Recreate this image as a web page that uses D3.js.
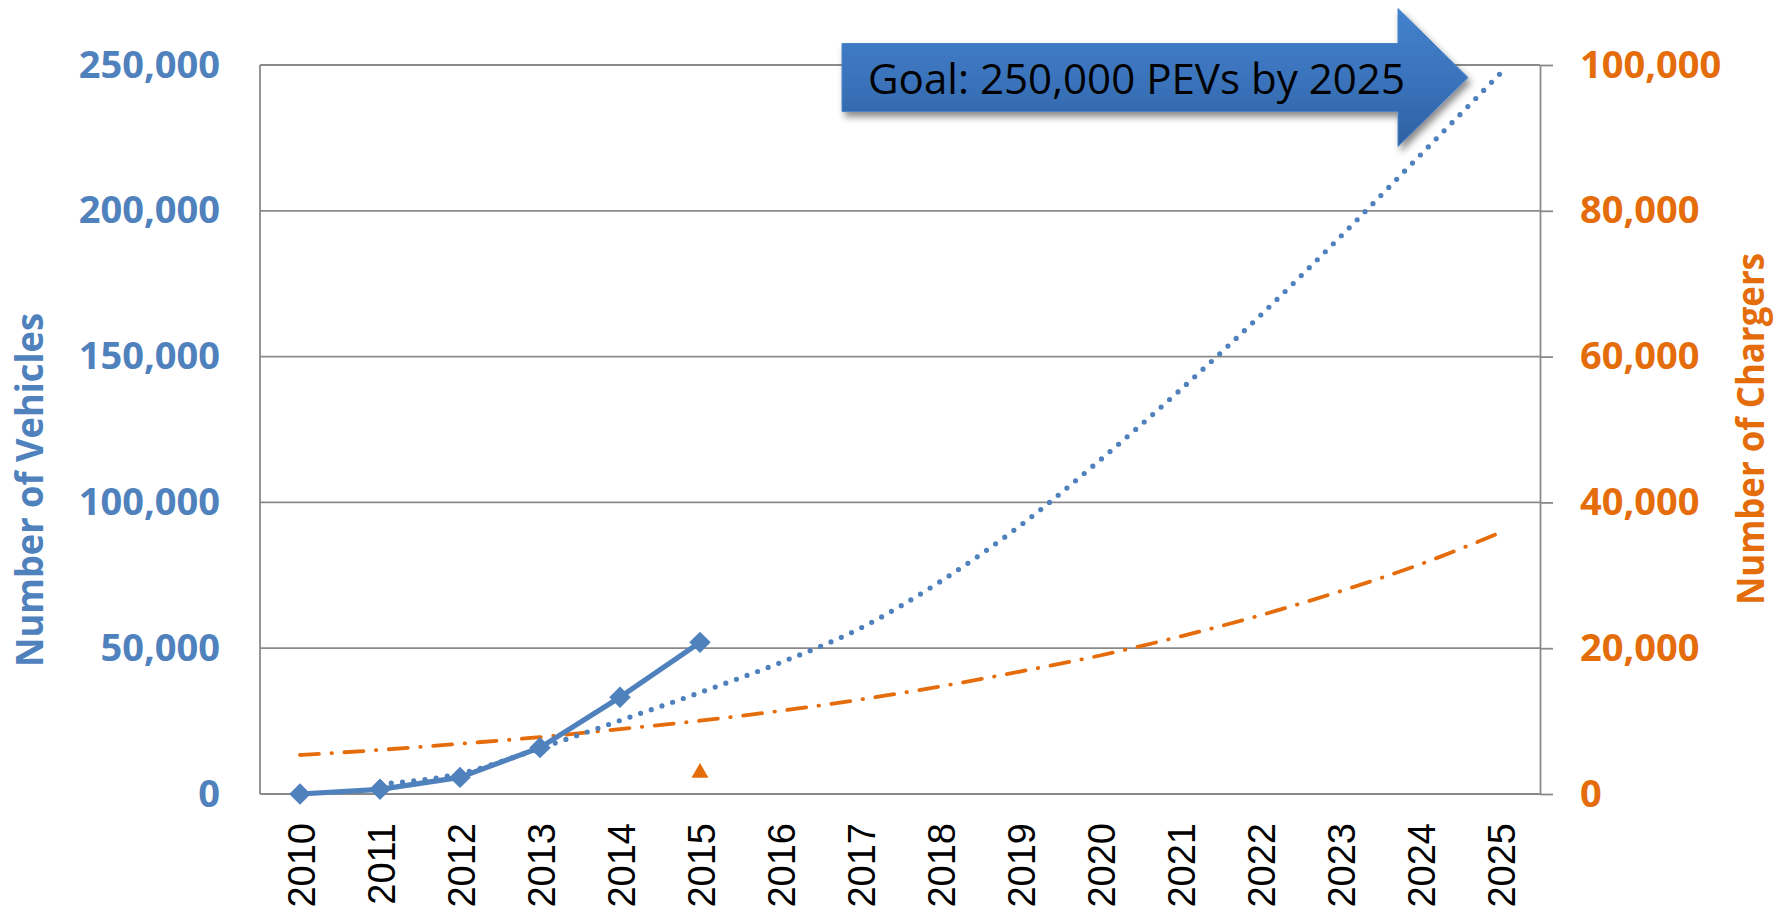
<!DOCTYPE html>
<html>
<head>
<meta charset="utf-8">
<script src="https://cdn.jsdelivr.net/npm/d3@7"></script>
<style>
  body { margin: 0; background: #fff; }
  svg { display: block; }
</style>
</head>
<body>
<div id="chart"></div>
<script>
// datos
var years = ["2010", "2011", "2012", "2013", "2014", "2015", "2016", "2017",
             "2018", "2019", "2020", "2021", "2022", "2023", "2024", "2025"];
var vehicleYears = ["2010", "2011", "2012", "2013", "2014", "2015"];
var vehicles = [0, 1600, 5700, 15900, 33200, 52000];
var vehicleTrendYears = ["2011", "2012", "2013", "2014", "2015", "2016", "2017", "2018",
                         "2019", "2020", "2021", "2022", "2023", "2024", "2025"];
var vehicleTrend = [3400, 7000, 15700, 25200, 34800, 45000, 56800, 72800,
                    92000, 114500, 138500, 164000, 191000, 219000, 247000];
var chargerYears = ["2015"];
var chargers = [2900];
var chargerTrend = [5350, 6050, 6900, 7800, 8900, 10050, 11400, 12950,
                    14750, 16800, 19000, 21600, 24500, 27800, 31500, 35850];
var leftTicks = [0, 50000, 100000, 150000, 200000, 250000];
var rightTicks = [0, 20000, 40000, 60000, 80000, 100000];
var goalText = "Goal: 250,000 PEVs by 2025";

var blue = "#4f81bd", orange = "#e46c0a", grid = "#8a8a8a";

var W = 1775, H = 910;
var plotLeft = 260, plotRight = 1540, plotTop = 65, plotBottom = 794;

var svg = d3.select("#chart").append("svg")
    .attr("width", W)
    .attr("height", H);

var defs = svg.append("defs");
var grad = defs.append("linearGradient")
    .attr("id", "arrowFill")
    .attr("x1", 0).attr("y1", 0).attr("x2", 0).attr("y2", 1);
grad.append("stop").attr("offset", "0%").attr("stop-color", "#4382cd");
grad.append("stop").attr("offset", "55%").attr("stop-color", "#3a72ba");
grad.append("stop").attr("offset", "100%").attr("stop-color", "#2e60a2");
var shadow = defs.append("filter").attr("id", "shadow")
    .attr("x", "-10%").attr("y", "-20%").attr("width", "130%").attr("height", "160%");
shadow.append("feDropShadow")
    .attr("dx", 3).attr("dy", 5).attr("stdDeviation", 3.5)
    .attr("flood-color", "#000").attr("flood-opacity", 0.45);

// escalas
var x = d3.scaleBand().domain(years).range([plotLeft, plotRight]);
var cx = function(d) { return x(d) + x.bandwidth() / 2; };
var yL = d3.scaleLinear().domain([0, 250000]).range([plotBottom, plotTop]);
var yR = d3.scaleLinear().domain([0, 100000]).range([plotBottom, plotTop]);

// lineas horizontales
svg.selectAll("line.grid").data(leftTicks).enter()
    .append("line")
    .attr("class", "grid")
    .attr("x1", plotLeft).attr("x2", plotRight)
    .attr("y1", function(d) { return yL(d); })
    .attr("y2", function(d) { return yL(d); })
    .attr("stroke", grid)
    .attr("stroke-width", 1.8);

svg.append("line")
    .attr("x1", plotLeft).attr("x2", plotLeft)
    .attr("y1", plotTop).attr("y2", plotBottom)
    .attr("stroke", grid).attr("stroke-width", 1.8);

// eje izquierdo
var gL = svg.append("g")
    .attr("transform", "translate(" + plotLeft + ",0)")
    .call(d3.axisLeft(yL).tickValues(leftTicks).tickFormat(d3.format(",")).tickSize(0).tickPadding(40));
gL.select(".domain").remove();
gL.selectAll("text")
    .attr("fill", blue)
    .style("font-family", "'Open Sans', sans-serif")
    .style("font-weight", "bold")
    .style("font-size", "38px");

// eje derecho
var gR = svg.append("g")
    .attr("transform", "translate(" + plotRight + ",0)")
    .call(d3.axisRight(yR).tickValues(rightTicks).tickFormat(d3.format(",")).tickSize(13).tickSizeOuter(0).tickPadding(27));
gR.select(".domain").attr("stroke", grid).attr("stroke-width", 1.8);
gR.selectAll(".tick line").attr("stroke", grid).attr("stroke-width", 1.8);
gR.selectAll("text")
    .attr("fill", orange)
    .style("font-family", "'Open Sans', sans-serif")
    .style("font-weight", "bold")
    .style("font-size", "38px");

// eje x
var gX = svg.append("g")
    .attr("transform", "translate(0," + plotBottom + ")")
    .call(d3.axisBottom(x).tickSize(0));
gX.select(".domain").remove();
gX.selectAll("text")
    .attr("y", 0).attr("dy", 0)
    .attr("transform", "translate(15,29) rotate(-90)")
    .attr("text-anchor", "end")
    .attr("fill", "#000")
    .style("font-family", "'Liberation Sans', Arial, sans-serif")
    .style("font-size", "38px");

// titulos de ejes
svg.append("text")
    .attr("transform", "translate(42.5,490) rotate(-90)")
    .attr("text-anchor", "middle")
    .attr("fill", blue)
    .attr("textLength", 354)
    .attr("lengthAdjust", "spacingAndGlyphs")
    .style("font-family", "'Open Sans', sans-serif")
    .style("font-weight", "bold")
    .style("font-size", "38px")
    .text("Number of Vehicles");

svg.append("text")
    .attr("transform", "translate(1764,429) rotate(-90)")
    .attr("text-anchor", "middle")
    .attr("fill", orange)
    .attr("textLength", 352)
    .attr("lengthAdjust", "spacingAndGlyphs")
    .style("font-family", "'Open Sans', sans-serif")
    .style("font-weight", "bold")
    .style("font-size", "38px")
    .text("Number of Chargers");

// tendencia de cargadores
var lineaR = d3.line()
    .x(function(d) { return cx(d[0]); })
    .y(function(d) { return yR(d[1]); })
    .curve(d3.curveMonotoneX);
svg.append("path")
    .datum(d3.zip(years, chargerTrend))
    .attr("fill", "none")
    .attr("stroke", orange)
    .attr("stroke-width", 3.8)
    .attr("stroke-linecap", "round")
    .attr("stroke-dasharray", "19 12.5 0.5 12.5")
    .attr("d", lineaR);

// tendencia de vehiculos
var lineaL = d3.line()
    .x(function(d) { return cx(d[0]); })
    .y(function(d) { return yL(d[1]); })
    .curve(d3.curveMonotoneX);
svg.append("path")
    .datum(d3.zip(vehicleTrendYears, vehicleTrend))
    .attr("fill", "none")
    .attr("stroke", blue)
    .attr("stroke-width", 5.2)
    .attr("stroke-linecap", "round")
    .attr("stroke-dasharray", "0 11.3")
    .attr("d", lineaL);

// serie de vehiculos
var lineaV = d3.line()
    .x(function(d) { return cx(d[0]); })
    .y(function(d) { return yL(d[1]); });
svg.append("path")
    .datum(d3.zip(vehicleYears, vehicles))
    .attr("fill", "none")
    .attr("stroke", blue)
    .attr("stroke-width", 5.2)
    .attr("stroke-linejoin", "round")
    .attr("d", lineaV);

svg.selectAll("path.diamond").data(d3.zip(vehicleYears, vehicles)).enter()
    .append("path")
    .attr("class", "diamond")
    .attr("d", d3.symbol(d3.symbolSquare, 230))
    .attr("transform", function(d) {
        return "translate(" + cx(d[0]) + "," + yL(d[1]) + ") rotate(45)";
    })
    .attr("fill", blue);

// serie de cargadores
svg.selectAll("path.tri").data(d3.zip(chargerYears, chargers)).enter()
    .append("path")
    .attr("class", "tri")
    .attr("d", d3.symbol(d3.symbolTriangle, 125))
    .attr("transform", function(d) {
        return "translate(" + cx(d[0]) + "," + yR(d[1]) + ")";
    })
    .attr("fill", orange);

// flecha de meta
var arrow = [[842, 43.5], [1398, 43.5], [1398, 8.5], [1468, 77.5],
             [1398, 146.5], [1398, 111.5], [842, 111.5]];
svg.append("path")
    .attr("d", "M" + arrow.join("L") + "Z")
    .attr("fill", "url(#arrowFill)")
    .attr("stroke", "#4a84c8")
    .attr("stroke-width", 1)
    .attr("filter", "url(#shadow)");

svg.append("text")
    .attr("x", 868)
    .attr("y", 93.5)
    .attr("fill", "#000")
    .attr("textLength", 537)
    .attr("lengthAdjust", "spacingAndGlyphs")
    .style("font-family", "'Open Sans', sans-serif")
    .style("font-size", "42px")
    .text(goalText);
</script>
</body>
</html>
